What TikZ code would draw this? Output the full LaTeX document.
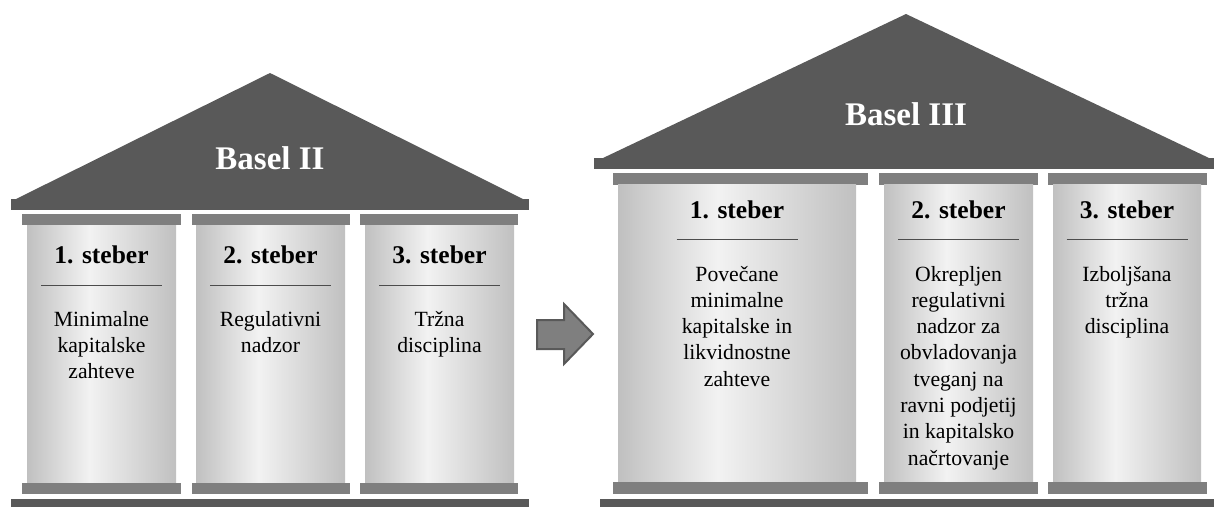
\documentclass[tikz,border=0pt]{standalone}
\usepackage{fontspec}
\setmainfont{Liberation Serif}
\definecolor{roofgray}{HTML}{595959}
\definecolor{capgray}{HTML}{7F7F7F}
\definecolor{shaftdark}{HTML}{C0C0C0}
\definecolor{shaftlight}{HTML}{F2F2F2}
\pgfdeclarehorizontalshading{colshade}{100bp}{color(0bp)=(shaftdark); color(25bp)=(shaftdark); color(46bp)=(shaftlight); color(75bp)=(shaftdark); color(100bp)=(shaftdark)}
\begin{document}
\begin{tikzpicture}[x=1pt,y=-1pt,
  roof/.style={fill=roofgray},
  capital/.style={fill=capgray},
  shaft/.style={shading=colshade},
  title/.style={text=white,font=\fontsize{33}{40}\selectfont\bfseries,anchor=base,inner sep=0pt},
  heading/.style={font=\fontsize{25.5}{30}\selectfont\bfseries,anchor=base,inner sep=0pt},
  body/.style={font=\fontsize{21.7}{26.3}\selectfont,align=center,anchor=base,inner sep=0pt},
  divider/.style={draw=black!70,line width=1pt},
  arrowshape/.style={fill=capgray,draw=roofgray,line width=2pt,line join=miter}]
\useasboundingbox (0,0) rectangle (1214,507);

% ---------- Basel II temple ----------
\fill[roof] (16,199) -- (270,73) -- (523,199) -- cycle;
\fill[roof] (11,199) rectangle (529,210);
\foreach \a/\b/\c/\d in {22/181/27/176, 192/350/196/345, 360/518/365/514} {
  \fill[capital] (\a,214) rectangle (\b,225);
  \shade[shaft] (\c,225) rectangle (\d,483);
  \fill[capital] (\a,483) rectangle (\b,494);
}
\fill[roof] (11,499) rectangle (529,507);

\node[title] (b2) at (270,169) {Basel II};
\node[heading] (l1h) at (101.5,263) {1. steber};
\node[heading] (l2h) at (270.5,263) {2. steber};
\node[heading] (l3h) at (439.5,263) {3. steber};
\foreach \x in {101.5,270.5,439.5} {
  \draw[divider] (\x-60.5,285) -- (\x+60.5,285);
}
% body nodes: base anchor = baseline of the last line
\node[body] (l1b) at (101.5,378.6) {Minimalne\\kapitalske\\zahteve};
\node[body] (l2b) at (270.5,352.3) {Regulativni\\nadzor};
\node[body] (l3b) at (439.5,352.3) {Tržna\\disciplina};

% ---------- arrow ----------
\draw[arrowshape] (537,320) -- (564,320) -- (564,304) -- (593,334) -- (564,364) -- (564,349) -- (537,349) -- cycle;

% ---------- Basel III temple ----------
\fill[roof] (603,158) -- (906,14) -- (1209,158) -- cycle;
\fill[roof] (594,158) rectangle (1214,169);
\foreach \a/\b/\c/\d in {613/868/618/856, 879/1038/884/1033, 1048/1207/1053/1201} {
  \fill[capital] (\a,173) rectangle (\b,184.5);
  \shade[shaft] (\c,184.5) rectangle (\d,482);
  \fill[capital] (\a,482) rectangle (\b,494);
}
\fill[roof] (600,499) rectangle (1214,507);

\node[title] (b3) at (906,125) {Basel III};
\node[heading] (r1h) at (737,218) {1. steber};
\node[heading] (r2h) at (958.5,218) {2. steber};
\node[heading] (r3h) at (1127,218) {3. steber};
\foreach \x in {737,958.5,1127} {
  \draw[divider] (\x-60.5,239) -- (\x+60.5,239);
}
\node[body] (r1b) at (737,386.2) {Povečane\\minimalne\\kapitalske in\\likvidnostne\\zahteve};
\node[body] (r2b) at (958.5,465.1) {Okrepljen\\regulativni\\nadzor za\\obvladovanja\\tveganj na\\ravni podjetij\\in kapitalsko\\načrtovanje};
\node[body] (r3b) at (1127,333.6) {Izboljšana\\tržna\\disciplina};
\end{tikzpicture}
\end{document}
